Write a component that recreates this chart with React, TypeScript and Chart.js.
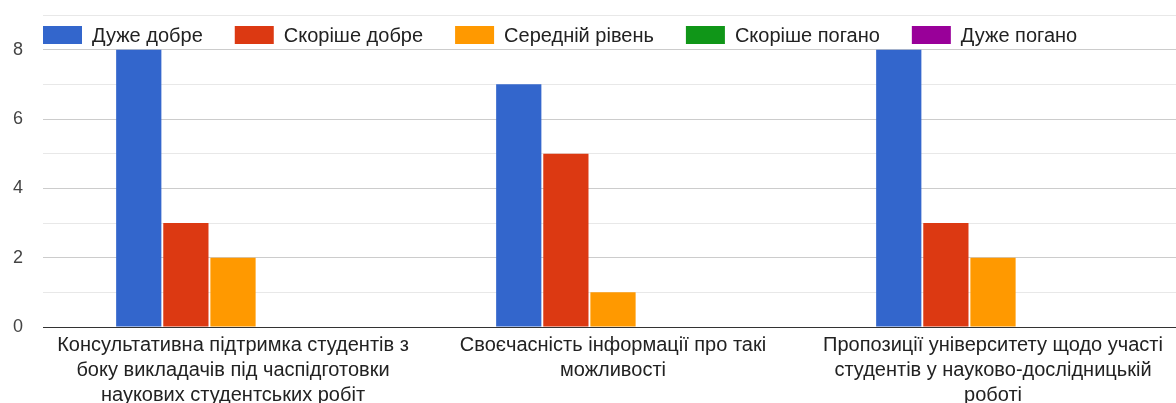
import React, { useEffect, useRef } from "react";
import { Chart, registerables } from "chart.js";

Chart.register(...registerables);

const categories: string[][] = [
  ["Консультативна підтримка студентів з", "боку викладачів під часпідготовки", "наукових студентських робіт"],
  ["Своєчасність інформації про такі", "можливості"],
  ["Пропозиції університету щодо участі", "студентів у науково-дослідницькій", "роботі"],
];
const seriesNames = ["Дуже добре", "Скоріше добре", "Середній рівень", "Скоріше погано", "Дуже погано"];
const seriesColors = ["#3366cc", "#dc3912", "#ff9900", "#109618", "#990099"];
const veryGood = [8, 7, 8];
const ratherGood = [3, 5, 3];
const average = [2, 1, 2];
const ratherBad = [0, 0, 0];
const veryBad = [0, 0, 0];
const yTickLabels = [0, 2, 4, 6, 8];
const yMax = 9;

const FONT = "Arial, 'Liberation Sans', sans-serif";
const LEGEND_SIZE = 20;
const X_SIZE = 20;
const Y_SIZE = 18;

const legendPlugin = {
  id: "topLegend",
  afterDraw(chart: any) {
    const ctx = chart.ctx as CanvasRenderingContext2D;
    const area = chart.chartArea;
    ctx.save();
    ctx.font = `${LEGEND_SIZE}px ${FONT}`;
    ctx.textBaseline = "middle";
    ctx.textAlign = "left";
    let x = area.left;
    const bw = 39;
    const bh = 18;
    const top = area.top + 11;
    chart.data.datasets.forEach((ds: any) => {
      ctx.fillStyle = ds.backgroundColor;
      ctx.fillRect(x, top, bw, bh);
      ctx.fillStyle = "#222222";
      ctx.fillText(ds.label, x + bw + 10, top + bh / 2 + 1);
      x += bw + 10 + ctx.measureText(ds.label).width + 32;
    });
    ctx.restore();
  },
};

export default function App() {
  const ref = useRef<HTMLCanvasElement | null>(null);
  useEffect(() => {
    document.body.style.margin = "0";
    document.body.style.overflow = "hidden";
    const data = [veryGood, ratherGood, average, ratherBad, veryBad];
    const chart = new Chart(ref.current as HTMLCanvasElement, {
      type: "bar",
      data: {
        labels: categories,
        datasets: seriesNames.map((name, i) => ({
          label: name,
          data: data[i],
          backgroundColor: seriesColors[i],
          borderWidth: 0,
          categoryPercentage: 0.62,
          barPercentage: 0.96,
        })),
      },
      options: {
        responsive: false,
        animation: false,
        devicePixelRatio: 1,
        layout: { padding: { top: 15, left: 0, right: 0, bottom: 0 } },
        plugins: { legend: { display: false }, tooltip: { enabled: false } },
        scales: {
          x: {
            grid: { display: false, drawTicks: false },
            border: { display: false },
            ticks: {
              autoSkip: false,
              maxRotation: 0,
              minRotation: 0,
              padding: 6,
              color: "#222222",
              font: { family: FONT, size: X_SIZE, lineHeight: 25 / X_SIZE },
            },
            afterFit: (scale: any) => {
              scale.height = 76;
              scale.paddingLeft = 0;
              scale.paddingRight = 0;
            },
          },
          y: {
            min: 0,
            max: yMax,
            border: { display: false },
            grid: {
              drawTicks: false,
              color: (c: any) =>
                c.tick.value === 0 ? "#333333" : c.tick.value % 2 === 0 ? "#cccccc" : "#e8e8e8",
            },
            ticks: {
              stepSize: 1,
              padding: 20,
              color: "#444444",
              font: { family: FONT, size: Y_SIZE },
              callback: (v: any) => (yTickLabels.includes(Number(v)) ? String(v) : ""),
            },
            afterFit: (scale: any) => {
              scale.width = 43;
              scale.paddingTop = 0;
              scale.paddingBottom = 0;
            },
          },
        },
      },
      plugins: [legendPlugin],
    });
    return () => chart.destroy();
  }, []);

  return (
    <div
      style={{
        position: "fixed",
        left: 0,
        top: 0,
        width: 1176,
        height: 403,
        overflow: "hidden",
        background: "#ffffff",
      }}
    >
      <canvas ref={ref} width={1183} height={403} style={{ display: "block" }} />
    </div>
  );
}
